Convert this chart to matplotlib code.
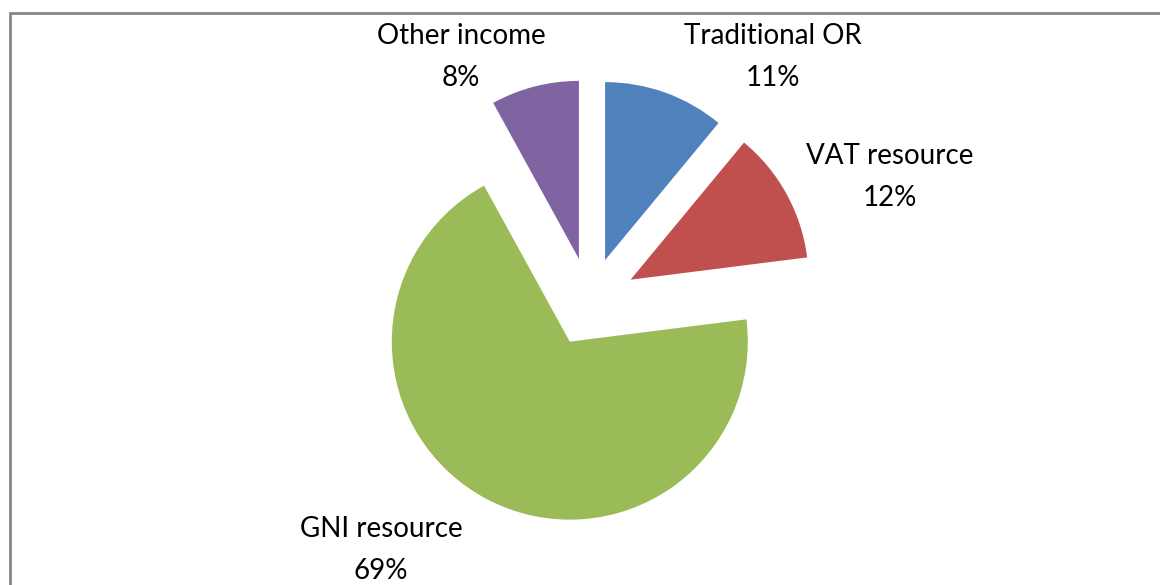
import matplotlib
matplotlib.use("Agg")
import matplotlib.pyplot as plt
from matplotlib.patches import Rectangle

labels = ["Traditional OR", "VAT resource", "GNI resource", "Other income"]
shares = [11, 12, 69, 8]
colors = ["#4F81BD", "#C0504D", "#9BBB59", "#8064A2"]
explode = [0.25, 0.26, 0.25, 0.25]

# label block centres in pixel coordinates (y up)
label_pos = [(773, 528), (890, 408), (381, 35), (461, 528)]

plt.rcParams["font.family"] = ["Lato", "DejaVu Sans"]

fig = plt.figure(figsize=(11.6, 5.85), dpi=100)
ax = fig.add_axes([0, 0, 1, 1])

radius = 178
# pie() offsets wedges by explode in data units, so scale by the radius
ax.pie(shares, explode=[e * radius for e in explode], colors=colors,
       startangle=90, counterclock=False, center=(590, 283), radius=radius,
       wedgeprops=dict(linewidth=0))

for lab, val, (x, y) in zip(labels, shares, label_pos):
    ax.text(x, y, f"{lab}\n{val}%", ha="center", va="center", fontsize=20,
            linespacing=1.72, color="black")

# chart frame (cut off at right and bottom like the reference)
ax.add_patch(Rectangle((10, -20), 1200, 592, fill=False, edgecolor="#868686",
                       linewidth=2, clip_on=False))

ax.set_xlim(0, 1160)
ax.set_ylim(0, 585)
ax.set_aspect("equal")
ax.axis("off")

fig.savefig("out.png", dpi=100)
